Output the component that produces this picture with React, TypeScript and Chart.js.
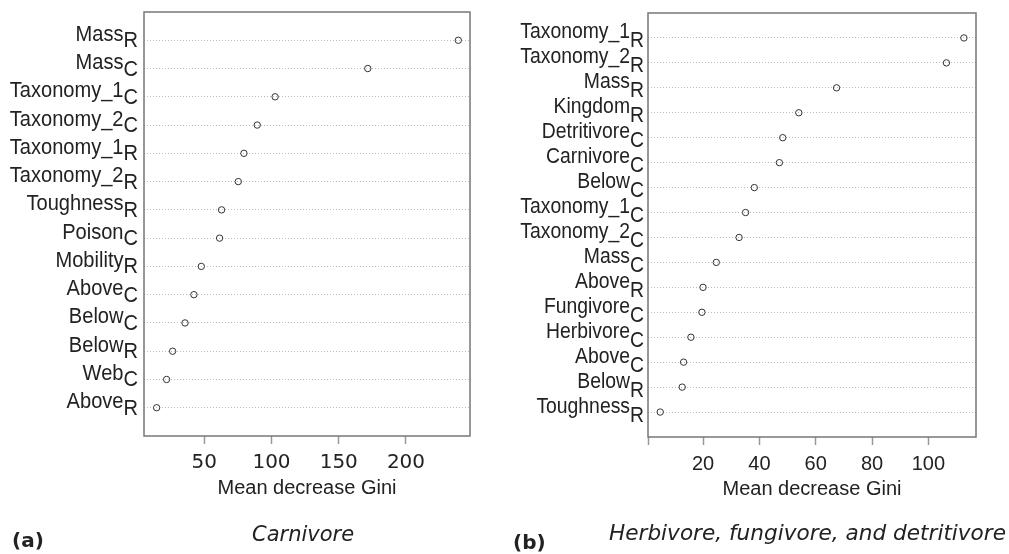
import React, { useEffect, useRef } from "react";
import { Chart, registerables } from "chart.js";
Chart.register(...registerables);

// ---- Panel (a): Carnivore ----
const carnLabels = ["Mass", "Mass", "Taxonomy_1", "Taxonomy_2", "Taxonomy_1", "Taxonomy_2", "Toughness", "Poison", "Mobility", "Above", "Below", "Below", "Web", "Above"];
const carnSubs = ["R", "C", "C", "C", "R", "R", "R", "C", "R", "C", "C", "R", "C", "R"];
const carnValues = [238.9, 171.6, 102.7, 89.4, 79.5, 75.3, 62.9, 61.4, 47.8, 42.3, 35.7, 26.5, 22.0, 14.6];
const carnTicks = [50, 100, 150, 200];
const carnRange = [5.2, 247.6];

// ---- Panel (b): Herbivore, fungivore, and detritivore ----
const herbLabels = ["Taxonomy_1", "Taxonomy_2", "Mass", "Kingdom", "Detritivore", "Carnivore", "Below", "Taxonomy_1", "Taxonomy_2", "Mass", "Above", "Fungivore", "Herbivore", "Above", "Below", "Toughness"];
const herbSubs = ["R", "R", "R", "R", "C", "C", "C", "C", "C", "C", "R", "C", "C", "C", "R", "R"];
const herbValues = [112.6, 106.4, 67.4, 54.0, 48.3, 47.1, 38.2, 35.1, 32.8, 24.7, 20.0, 19.6, 15.7, 13.1, 12.6, 4.8];
const herbTicks = [20, 40, 60, 80, 100];
const herbRange = [0.46, 116.9];

const axisTitle = "Mean decrease Gini";

type Panel = {
  labels: string[];
  subs: string[];
  values: number[];
  ticks: number[];
  range: number[];
  minTick: boolean;
  tickFont: string;
  pad: { left: number; right: number; top: number; bottom: number };
  labelGap: number;
  sx: number;
  subDy: number;
};

const LABEL_FONT = '22px "Liberation Sans", Arial, sans-serif';

function makeChart(canvas: HTMLCanvasElement, p: Panel) {
  const n = p.labels.length;
  const decor = {
    id: "decor",
    afterDraw(chart: any) {
      const ctx = chart.ctx as CanvasRenderingContext2D;
      const a = chart.chartArea;
      ctx.save();
      ctx.strokeStyle = "#777";
      ctx.lineWidth = 1.5;
      ctx.strokeRect(a.left, a.top, a.right - a.left, a.bottom - a.top);
      ctx.font = LABEL_FONT;
      ctx.fillStyle = "#222";
      ctx.textAlign = "left";
      ctx.textBaseline = "alphabetic";
      const ys = chart.scales.y;
      for (let i = 0; i < n; i++) {
        const y = ys.getPixelForValue(i);
        const main = p.labels[i];
        const sub = p.subs[i];
        const subW = ctx.measureText(sub).width * p.sx;
        const mainW = ctx.measureText(main).width * p.sx;
        const xr = a.left - p.labelGap;
        ctx.save();
        ctx.translate(xr - subW - mainW, y + 0.5);
        ctx.scale(p.sx, 1);
        ctx.fillText(main, 0, 0);
        ctx.restore();
        ctx.save();
        ctx.translate(xr - subW, y + p.subDy);
        ctx.scale(p.sx, 1);
        ctx.fillText(sub, 0, 0);
        ctx.restore();
      }
      ctx.restore();
    },
  };

  return new Chart(canvas, {
    type: "scatter",
    data: {
      datasets: [
        {
          data: p.values.map((v, i) => ({ x: v, y: i })),
          pointStyle: "circle",
          pointRadius: 3.2,
          pointHoverRadius: 3.2,
          pointBorderWidth: 1,
          pointBorderColor: "#333",
          pointBackgroundColor: "rgba(0,0,0,0)",
        },
      ],
    },
    options: {
      animation: false,
      responsive: false,
      events: [],
      layout: { padding: p.pad },
      plugins: { legend: { display: false }, tooltip: { enabled: false } },
      scales: {
        x: {
          type: "linear",
          min: p.range[0],
          max: p.range[1],
          afterBuildTicks: (s: any) => {
            const t = p.ticks.map((v) => ({ value: v }));
            if (p.minTick) t.unshift({ value: p.range[0] });
            s.ticks = t;
          },
          afterFit: (s: any) => {
            s.height = 64;
          },
          grid: {
            drawOnChartArea: false,
            drawTicks: true,
            tickLength: 8,
            tickColor: "#999",
            tickWidth: 1.5,
          },
          border: { display: false },
          ticks: {
            autoSkip: false,
            maxRotation: 0,
            padding: 7,
            color: "#222",
            font: { family: p.tickFont, size: 20 },
            callback: (v: any) => (p.ticks.includes(Number(v)) ? String(v) : ""),
          },
          title: {
            display: true,
            text: axisTitle,
            color: "#222",
            font: { family: "Liberation Sans", size: 20 },
            padding: 0,
          },
        },
        y: {
          type: "linear",
          min: -1,
          max: n,
          reverse: true,
          afterBuildTicks: (s: any) => {
            s.ticks = p.labels.map((_, i) => ({ value: i }));
          },
          afterFit: (s: any) => {
            s.width = 0;
          },
          grid: { color: "#bbb", lineWidth: 1, drawTicks: false },
          border: { display: false, dash: [1, 2] },
          ticks: { display: false },
        },
      },
    } as any,
    plugins: [decor],
  });
}

function ChartCanvas({ panel, left, width }: { panel: Panel; left: number; width: number }) {
  const ref = useRef<HTMLCanvasElement | null>(null);
  useEffect(() => {
    if (!ref.current) return;
    const c = makeChart(ref.current, panel);
    return () => c.destroy();
  }, []);
  return (
    <canvas
      ref={ref}
      width={width}
      height={554}
      style={{ position: "absolute", left, top: 0, width, height: 554 }}
    />
  );
}

const panelA: Panel = {
  labels: carnLabels,
  subs: carnSubs,
  values: carnValues,
  ticks: carnTicks,
  range: carnRange,
  minTick: false,
  tickFont: "DejaVu Sans",
  pad: { left: 144, right: 30, top: 12, bottom: 54 },
  labelGap: 6,
  sx: 0.912,
  subDy: 7,
};

const panelB: Panel = {
  labels: herbLabels,
  subs: herbSubs,
  values: herbValues,
  ticks: herbTicks,
  range: herbRange,
  minTick: true,
  tickFont: "Liberation Sans",
  pad: { left: 148, right: 33, top: 13, bottom: 53 },
  labelGap: 4,
  sx: 0.88,
  subDy: 9.5,
};

const capStyle: React.CSSProperties = {
  position: "absolute",
  fontFamily: '"DejaVu Sans", sans-serif',
  color: "#222",
  lineHeight: 1,
  whiteSpace: "nowrap",
};

export default function App() {
  return (
    <div style={{ position: "absolute", left: 0, top: 0, width: 1009, height: 554, background: "#fff", overflow: "hidden" }}>
      <ChartCanvas panel={panelA} left={0} width={500} />
      <ChartCanvas panel={panelB} left={500} width={509} />
      <div style={{ ...capStyle, left: 12, top: 530, fontSize: 20, fontWeight: "bold" }}>(a)</div>
      <div style={{ ...capStyle, left: 252, top: 524, fontSize: 21, fontStyle: "italic" }}>Carnivore</div>
      <div style={{ ...capStyle, left: 513, top: 532, fontSize: 20, fontWeight: "bold" }}>(b)</div>
      <div style={{ ...capStyle, left: 609, top: 522, fontSize: 21.6, fontStyle: "italic" }}>Herbivore, fungivore, and detritivore</div>
    </div>
  );
}
